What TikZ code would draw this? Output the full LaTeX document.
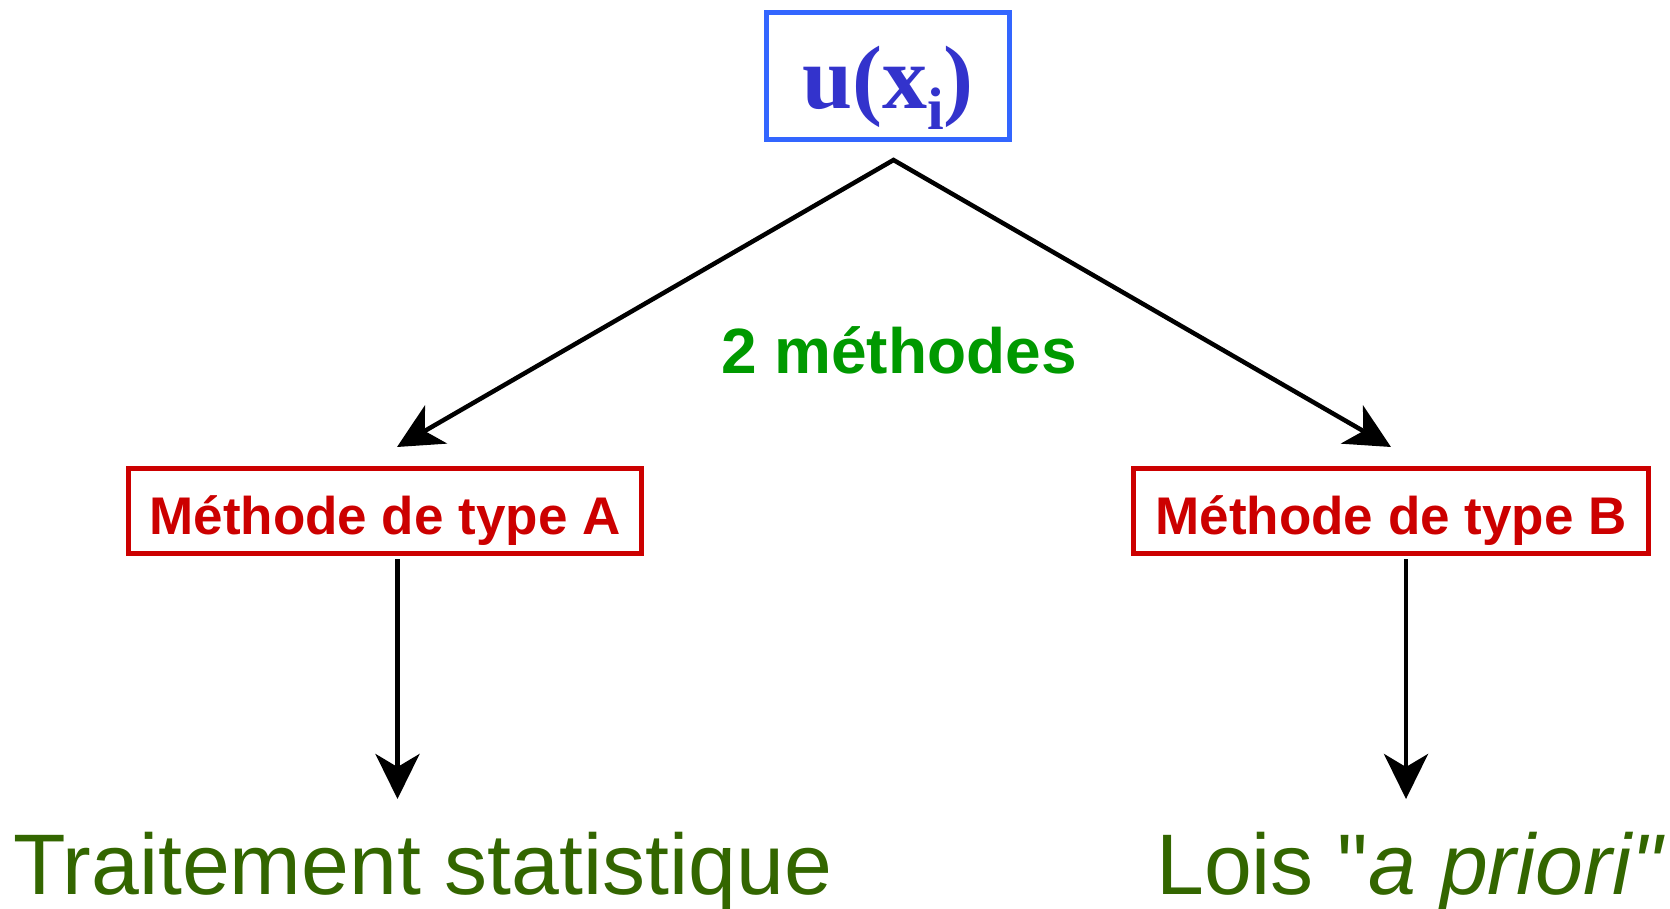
\documentclass[tikz,border=0pt]{standalone}
\usepackage{fontspec}
\setmainfont{Liberation Sans}
\newfontfamily\timesfont{Liberation Serif}
\usetikzlibrary{arrows.meta}

\definecolor{boxred}{HTML}{CC0000}
\definecolor{midgreen}{HTML}{009900}
\definecolor{darkgreen}{HTML}{336600}
\definecolor{frameblue}{HTML}{3366FF}
\definecolor{textblue}{HTML}{3333CC}

% straight double quote glyph, taken directly from the current font
\newcommand{\straightquote}{\XeTeXglyph\XeTeXglyphindex"quotedbl"\relax}

\tikzset{
  topbox/.style={draw=frameblue, line width=5.5pt, inner sep=0pt,
    minimum width=243pt, minimum height=127pt,
    text height=64pt, text depth=0pt, text=textblue},
  methodbox/.style={draw=boxred, line width=5pt, inner sep=0pt,
    minimum height=85pt, text height=46pt, text depth=0pt, text=boxred,
    font=\fontsize{53}{53}\selectfont\bfseries},
  resulttext/.style={inner sep=0pt, text=darkgreen,
    text height=63pt, text depth=14pt,
    font=\fontsize{86}{86}\selectfont},
  midlabel/.style={inner sep=0pt, text=midgreen,
    font=\fontsize{64}{64}\selectfont\bfseries},
  link/.style={line width=4.5pt,
    -{Stealth[length=45pt, width=44pt, inset=13pt]}},
}

\begin{document}
\begin{tikzpicture}[x=1pt, y=-1pt]
  \useasboundingbox (0,0) rectangle (1670,908);

  % root quantity
  \node[topbox] (root) at (888,76)
    {\timesfont\bfseries\fontsize{90}{90}\selectfont
     u(x\raisebox{-21pt}{\fontsize{60}{60}\selectfont i})};

  % the two evaluation methods
  \node[methodbox, minimum width=513pt] (typeA) at (385,511) {Méthode de type A};
  \node[methodbox, minimum width=515pt] (typeB) at (1391,511) {Méthode de type B};

  \node[midlabel, anchor=base] (count) at (899,373) {2 méthodes};

  % outcomes
  \node[resulttext, anchor=base west] (stat) at (13,894) {Traitement statistique};
  \node[resulttext, anchor=base west] (prior) at (1156,894)
    {Lois \straightquote\textit{a priori\straightquote}};

  % branching point and arrow tips
  \coordinate (split) at (893.5,160);
  \coordinate (tipA) at (397,447);
  \coordinate (tipB) at (1391,447);
  \coordinate (endA) at (397.5,799);
  \coordinate (endB) at (1406,799);

  \draw[line width=4.5pt, {Stealth[length=45pt, width=44pt, inset=13pt]}-{Stealth[length=45pt, width=44pt, inset=13pt]}]
    (tipA) -- (split) -- (tipB);

  \draw[link] ([yshift=-3pt]typeA.south -| endA) -- (endA);
  \draw[link] ([yshift=-3pt]typeB.south -| endB) -- (endB);
\end{tikzpicture}
\end{document}
